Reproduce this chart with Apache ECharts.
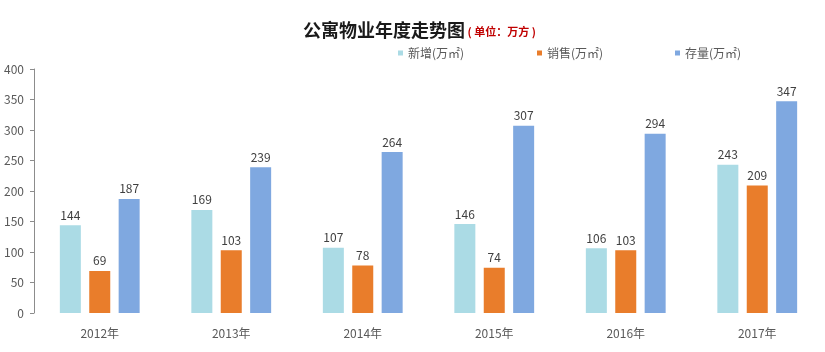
<!DOCTYPE html>
<html>
<head>
<meta charset="utf-8">
<script src="https://cdn.jsdelivr.net/npm/echarts@6/dist/echarts.min.js"></script>
<style>
  html, body { margin: 0; padding: 0; background: #fff; }
  #chartContainerID { width: 825px; height: 352px; }
</style>
</head>
<body>
<div id="chartContainerID"></div>
<script>
// chart data
var years = ['2012年', '2013年', '2014年', '2015年', '2016年', '2017年'];
var newSupply = [144, 169, 107, 146, 106, 243];
var sales = [69, 103, 78, 74, 103, 209];
var stock = [187, 239, 264, 307, 294, 347];
var seriesNames = ['新增(万㎡)', '销售(万㎡)', '存量(万㎡)'];
var yTicks = [0, 50, 100, 150, 200, 250, 300, 350, 400];

var colors = ['#abdbe5', '#e97d2b', '#7fa8e0'];
var cjk = '"Noto Sans CJK SC", "Microsoft YaHei", sans-serif';

var myChart = echarts.init(document.getElementById('chartContainerID'));

var labelStyle = {
  show: true,
  position: 'top',
  distance: 4,
  color: '#404040',
  fontSize: 12,
  fontFamily: cjk
};

function legendAt(name, x) {
  return {
    data: [name],
    left: x,
    top: 42,
    icon: 'rect',
    itemWidth: 5,
    itemHeight: 5,
    itemGap: 6,
    textStyle: { color: '#595959', fontSize: 12, fontFamily: cjk }
  };
}

var option = {
  backgroundColor: '#fff',
  color: colors,
  title: {
    text: '{a|公寓物业年度走势图}{b| ( 单位：万方 )}',
    left: 298,
    top: 16,
    textStyle: {
      rich: {
        a: { fontSize: 18, fontWeight: 'bold', color: '#1a1a1a', fontFamily: cjk },
        b: { fontSize: 11, fontWeight: 'bold', color: '#c00000', fontFamily: cjk, padding: [4, 0, 0, 0] }
      }
    }
  },
  legend: [
    legendAt(seriesNames[0], 393),
    legendAt(seriesNames[1], 532),
    legendAt(seriesNames[2], 670)
  ],
  grid: { left: 34, right: 2, top: 69, bottom: 39 },
  xAxis: {
    type: 'category',
    data: years,
    axisLine: { show: false },
    axisTick: { show: false },
    axisLabel: { color: '#595959', fontSize: 12, margin: 14, fontFamily: cjk }
  },
  yAxis: {
    type: 'value',
    min: yTicks[0],
    max: yTicks[yTicks.length - 1],
    interval: yTicks[1] - yTicks[0],
    axisLine: { show: true, lineStyle: { color: '#8c8c8c' } },
    axisTick: { show: true, length: 4, lineStyle: { color: '#8c8c8c' } },
    splitLine: { show: false },
    axisLabel: { color: '#595959', fontSize: 12, margin: 10, fontFamily: cjk }
  },
  series: [
    { name: seriesNames[0], type: 'bar', data: newSupply, barWidth: 21, barGap: '40%', label: labelStyle },
    { name: seriesNames[1], type: 'bar', data: sales, barWidth: 21, barGap: '40%', label: labelStyle },
    { name: seriesNames[2], type: 'bar', data: stock, barWidth: 21, barGap: '40%', label: labelStyle }
  ]
};
myChart.setOption(option);
</script>
</body>
</html>
